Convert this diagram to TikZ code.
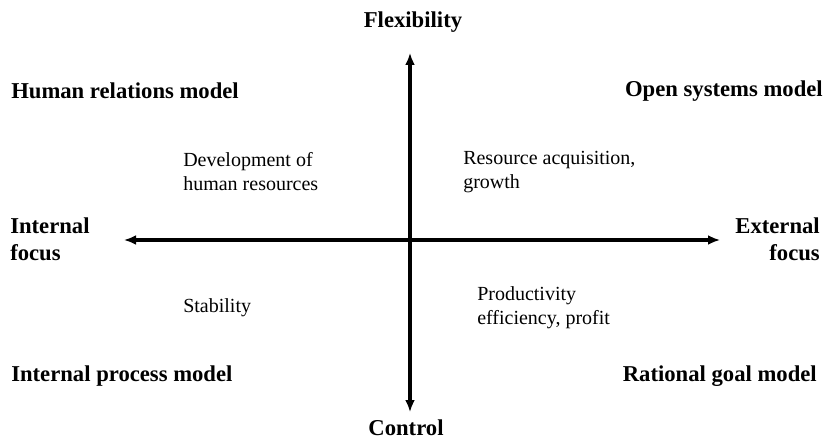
\documentclass[tikz,border=0pt]{standalone}
\usepackage{fontspec}
\setmainfont{Liberation Serif}
\usepackage{tikz}
\usetikzlibrary{arrows.meta}

\begin{document}
\begin{tikzpicture}[x=0.75pt, y=-0.75pt,
        model/.style={inner sep=0pt, font=\fontsize{17}{20}\selectfont\bfseries},
        aim/.style={inner sep=0pt, align=left, font=\fontsize{15}{18}\selectfont},
        axis/.style={line width=2.5pt, {Latex[length=9pt,width=7.5pt]}-{Latex[length=9pt,width=7.5pt]}}]
                \useasboundingbox (0, 0) rectangle (827, 441);

                \coordinate (up) at (410, 53);
                \coordinate (down) at (410, 412);
                \coordinate (left) at (124, 240);
                \coordinate (right) at (720, 240);
                \draw[axis] (down) -- (up);
                \draw[axis] (left) -- (right);

                \node[model] (flex) at (413, 22){Flexibility};
                \node[model] (ctrl) at (406, 428){Control};
                \node[model, align=left, anchor=west] (intf) at (10, 239){Internal\\focus};
                \node[model, align=right, anchor=east] (extf) at (820, 239){External\\focus};

                \node[model, anchor=west] (hrm) at (11, 91){Human relations model};
                \node[model, anchor=east] (osm) at (823, 91){Open systems model};
                \node[model, anchor=west] (ipm) at (11, 376){Internal process model};
                \node[model, anchor=east] (rgm) at (817, 376){Rational goal model};

                \node[aim, anchor=west] (dev) at (183, 172){Development of\\human resources};
                \node[aim, anchor=west] (res) at (463, 172){Resource acquisition,\\growth};
                \node[aim, anchor=west] (stab) at (183, 308){Stability};
                \node[aim, anchor=west] (prod) at (477, 308){Productivity\\efficiency, profit};
            \end{tikzpicture}
\end{document}
